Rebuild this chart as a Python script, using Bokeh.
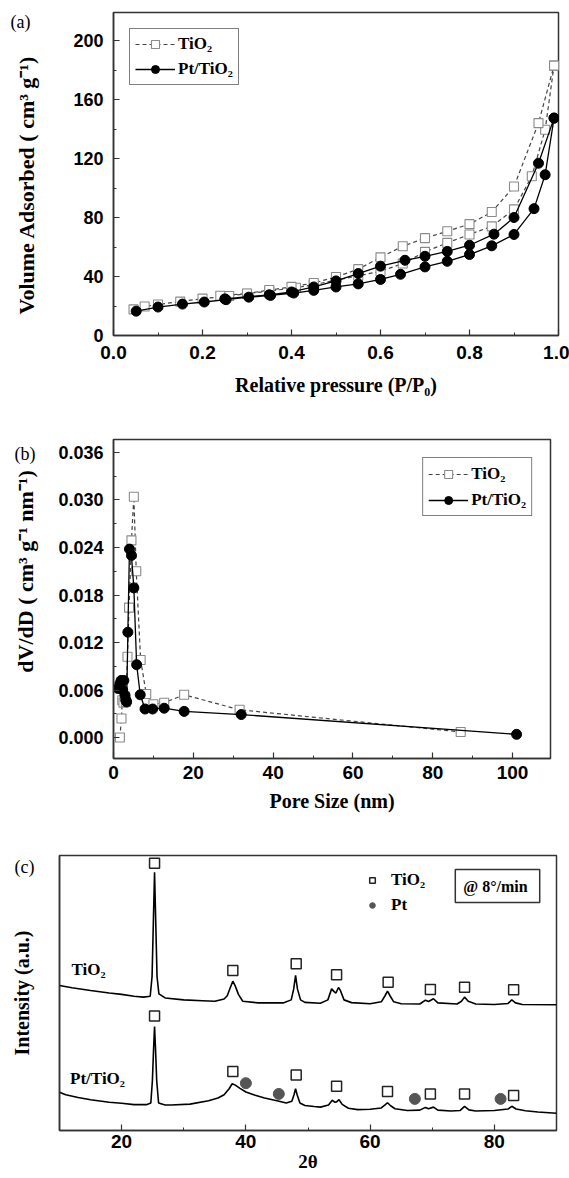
import math
from bokeh.plotting import figure
from bokeh.models import (Range1d, SingleIntervalTicker, PrintfTickFormatter, FixedTicker,
                          Legend, LegendItem, Label, LinearAxis)
from bokeh.embed import file_html
from bokeh.resources import INLINE

# ---------------- (a) N2 isotherms ----------------
tio2_ads_p = [0.045, 0.07, 0.10, 0.15, 0.20, 0.26, 0.30, 0.35, 0.41, 0.45, 0.50, 0.55,
              0.60, 0.65, 0.70, 0.75, 0.80, 0.85, 0.90, 0.94, 0.97, 0.99]
tio2_ads_v = [17.7, 19.7, 21.0, 23.0, 25.0, 26.8, 28.3, 30.2, 32.4, 34.5, 37.5, 40.5,
              43.5, 48.8, 56.7, 62.8, 68.5, 74.0, 85.5, 108.0, 139.5, 183.0]
tio2_des_p = [0.99, 0.955, 0.90, 0.85, 0.80, 0.75, 0.70, 0.65, 0.60, 0.55, 0.50, 0.45,
              0.40, 0.35, 0.30, 0.24]
tio2_des_v = [183.0, 144.0, 101.0, 83.7, 75.5, 70.7, 66.0, 60.5, 53.0, 45.0, 39.7, 35.6,
              33.0, 30.8, 28.5, 27.0]
pt_ads_p = [0.051, 0.10, 0.155, 0.204, 0.253, 0.304, 0.353, 0.405, 0.45, 0.50, 0.55,
            0.60, 0.645, 0.70, 0.75, 0.80, 0.85, 0.90, 0.945, 0.97, 0.99]
pt_ads_v = [16.5, 19.3, 21.3, 22.7, 24.3, 26.0, 27.2, 28.8, 30.6, 32.9, 35.0,
            38.0, 41.5, 46.5, 50.3, 54.9, 60.8, 68.5, 86.0, 109.0, 147.4]
pt_des_p = [0.99, 0.955, 0.90, 0.855, 0.80, 0.75, 0.70, 0.655, 0.60, 0.55, 0.50, 0.45,
            0.40, 0.35, 0.25]
pt_des_v = [147.4, 116.8, 80.0, 68.7, 61.2, 57.0, 53.7, 51.0, 47.0, 42.0, 37.0, 32.9,
            29.5, 27.6, 24.8]

# ---------------- (b) pore size distribution ----------------
tio2_pore_d = [1.6, 2.0, 2.2, 2.5, 2.8, 3.1, 3.5, 3.9, 4.5, 5.1, 5.7, 6.8, 8.2, 10.0,
               12.7, 17.7, 31.6, 87.0]
tio2_pore_v = [0.0000, 0.0024, 0.0047, 0.0044, 0.0052, 0.0045, 0.0102, 0.0164, 0.0249,
               0.0304, 0.0210, 0.0098, 0.0055, 0.0042, 0.0044, 0.0054, 0.0035, 0.0007]
pt_pore_d = [1.1, 1.6, 1.9, 2.3, 2.6, 2.9, 3.1, 3.3, 3.6, 4.0, 4.5, 5.1, 5.8, 6.7, 7.9,
             9.8, 12.7, 17.7, 32.0, 101.0]
pt_pore_v = [0.0062, 0.0068, 0.0072, 0.0060, 0.0072, 0.0053, 0.0047, 0.0045, 0.0133,
             0.0238, 0.0230, 0.0189, 0.0092, 0.0054, 0.0036, 0.0036, 0.0037, 0.0033,
             0.0029, 0.0004]

# ---------------- (c) XRD ----------------
xrd_tio2_2t = [10.0, 12.0, 15.0, 18.0, 20.0, 22.0, 23.5, 24.6, 24.9, 25.1, 25.3, 25.5,
               25.7, 26.0, 27.0, 30.0, 33.0, 35.0, 36.5, 37.0, 37.5, 37.9, 38.3, 38.8,
               39.5, 42.0, 46.0, 47.3, 47.7, 48.0, 48.3, 48.8, 49.5, 52.0, 53.2, 53.8,
               54.2, 54.5, 54.9, 55.2, 55.8, 57.0, 60.0, 61.8, 62.4, 62.8, 63.2, 63.8,
               65.0, 68.0, 68.9, 69.4, 70.2, 70.9, 74.0, 74.7, 75.2, 75.8, 77.0, 80.0,
               82.2, 82.8, 83.4, 84.5, 90.0]
xrd_tio2_int = [52.7, 51.9, 50.9, 50.0, 49.5, 48.8, 48.5, 48.8, 56.0, 75.0, 93.9, 75.0,
                56.0, 49.7, 48.2, 47.5, 47.2, 47.0, 47.8, 49.0, 52.0, 54.3, 52.5, 49.5,
                47.0, 46.4, 46.4, 47.5, 51.5, 56.4, 51.5, 47.5, 46.6, 46.3, 47.5, 51.5,
                50.5, 50.0, 52.0, 51.0, 47.5, 46.5, 46.1, 46.8, 49.0, 50.7, 49.0, 46.8,
                46.1, 46.0, 47.4, 46.9, 47.9, 46.4, 46.0, 47.0, 48.5, 47.0, 46.0, 45.8,
                46.2, 47.5, 46.4, 45.8, 45.7]
xrd_pt_2t = [10.0, 11.0, 13.0, 15.0, 18.0, 20.0, 22.0, 24.0, 24.7, 24.95, 25.15, 25.3,
             25.45, 25.65, 25.95, 27.0, 28.0, 31.0, 34.0, 35.5, 36.5, 37.3, 37.8, 38.3,
             39.0, 40.0, 41.5, 43.0, 45.0, 46.5, 47.4, 47.75, 48.0, 48.25, 48.7, 49.5,
             51.0, 52.0, 53.3, 53.9, 54.3, 54.6, 55.0, 55.5, 56.5, 58.0, 60.0, 61.8,
             62.4, 62.8, 63.3, 64.0, 66.0, 68.0, 68.9, 69.4, 70.2, 70.9, 73.0, 74.5,
             75.2, 75.9, 77.0, 80.0, 82.2, 82.8, 83.5, 85.0, 87.0, 90.0]
xrd_pt_int = [13.9, 13.0, 12.0, 11.2, 10.3, 9.9, 9.4, 9.4, 10.0, 18.0, 30.0, 37.8,
              30.0, 18.0, 10.0, 9.3, 9.3, 9.6, 10.8, 11.8, 13.0, 15.2, 17.0, 16.5,
              15.4, 14.0, 12.8, 11.8, 10.8, 10.0, 10.6, 13.0, 15.2, 13.0, 10.0, 9.1,
              8.7, 8.5, 9.3, 11.0, 10.3, 10.4, 11.2, 9.5, 8.1, 7.6, 7.7, 8.2,
              9.3, 10.1, 9.0, 7.9, 7.3, 7.4, 8.4, 7.9, 8.5, 7.4, 7.1, 7.3,
              8.8, 7.5, 7.1, 7.3, 7.8, 8.8, 7.8, 7.2, 6.7, 6.3]
tio2_peak_2t = [25.3, 37.9, 48.1, 54.6, 62.9, 69.7, 75.2, 83.1,
                25.3, 37.9, 48.1, 54.6, 62.8, 69.7, 75.2, 83.1]
tio2_peak_y = [97.2, 58.2, 60.6, 56.6, 53.9, 51.3, 52.1, 51.2,
               41.6, 21.5, 20.2, 16.1, 14.2, 13.3, 13.3, 12.7]
pt_peak_2t = [40.0, 45.3, 67.2, 81.0]
pt_peak_y = [17.2, 13.3, 11.5, 11.5]

SANS = "Liberation Sans"
SERIF = "Liberation Serif"
NB = "\u00a0"

# frames in page pixels (left, right, top, bottom) and ranges, used for annotation placement
FA, XA, YA = (113, 558, 12, 335), (0, 1), (0, 219)
FB, XB, YB = (113, 550, 439, 758), (0, 109.5), (-0.00265, 0.03764)
FC, XC, YC = (59, 556, 855, 1130), (10, 90), (0, 100)


def to_data(px, py, frame, xr, yr):
    L, R, T, B = frame
    x = xr[0] + (px - L) / (R - L) * (xr[1] - xr[0])
    y = yr[0] + (B - py) / (B - T) * (yr[1] - yr[0])
    return x, y


def add_text(p, frame, xr, yr, px, py, text, size, style="bold", angle=0.0,
             align="center", baseline="middle", font=SERIF, **kw):
    x, y = to_data(px, py, frame, xr, yr)
    p.add_layout(Label(x=x, y=y, text=text, text_font=font, text_font_style=style,
                       text_font_size=size, angle=angle, text_align=align,
                       text_baseline=baseline, text_color="black", **kw))


def side_tag(p, frame, yr, py, text, standoff):
    """Panel tag '(x)' drawn as the single tick label of an extra left axis."""
    L, R, T, B = frame
    yv = yr[0] + (B - py) / (B - T) * (yr[1] - yr[0])
    ax = LinearAxis(ticker=FixedTicker(ticks=[yv], minor_ticks=[]),
                    formatter=PrintfTickFormatter(format=text),
                    axis_line_color=None, major_tick_line_color=None,
                    minor_tick_line_color=None, major_label_standoff=standoff,
                    major_label_text_font=SERIF, major_label_text_font_style="normal",
                    major_label_text_font_size="18px", major_label_text_color="black")
    p.add_layout(ax, "left")


def style(p, xint, xfmt, yint=None, yfmt=None):
    p.xgrid.visible = False
    p.ygrid.visible = False
    p.outline_line_color = "#333333"
    p.outline_line_width = 1.5
    p.background_fill_color = "white"
    p.border_fill_color = "white"
    p.xaxis.ticker = SingleIntervalTicker(interval=xint, num_minor_ticks=2)
    p.xaxis.formatter = PrintfTickFormatter(format=xfmt)
    if yint is not None:
        p.yaxis.ticker = SingleIntervalTicker(interval=yint, num_minor_ticks=2)
        p.yaxis.formatter = PrintfTickFormatter(format=yfmt)
    for ax in p.axis:
        ax.axis_line_color = "#333333"
        ax.axis_line_width = 1.5
        ax.major_tick_in = 6
        ax.major_tick_out = 0
        ax.minor_tick_in = 3
        ax.minor_tick_out = 0
        ax.major_tick_line_color = "#333333"
        ax.minor_tick_line_color = "#333333"
        ax.major_tick_line_width = 1.2
        ax.minor_tick_line_width = 1.0
        ax.major_label_text_font = SANS
        ax.major_label_text_font_style = "bold"
        ax.major_label_text_color = "black"
        ax.axis_label_text_font = SERIF
        ax.axis_label_text_font_style = "bold"
        ax.axis_label_text_font_size = "20px"
        ax.axis_label_text_color = "black"
    p.xaxis.major_label_text_font_size = "19px"
    p.yaxis.major_label_text_font_size = "18px"
    p.yaxis.major_label_standoff = 10


def legend_style(lg):
    lg.border_line_color = "black"
    lg.border_line_width = 1.2
    lg.background_fill_color = "white"
    lg.padding = 5
    lg.spacing = 5
    lg.glyph_width = 40
    lg.glyph_height = 20
    lg.label_height = 20
    lg.label_standoff = 3
    lg.label_text_font = SERIF
    lg.label_text_font_style = "bold"
    lg.label_text_font_size = "17px"
    lg.label_text_color = "black"


DASH_COL = "#444444"
SQ_COL = "#8a8a8a"

# ---------------- figure (a) ----------------
pa = figure(width=569, height=416, title=None, x_range=Range1d(*XA), y_range=Range1d(*YA),
            output_backend="svg", toolbar_location=None,
            min_border_left=113, min_border_right=11, min_border_top=12, min_border_bottom=81)
style(pa, 0.2, "%.1f", 40, "%d")
pa.xaxis.major_label_standoff = 10
pa.xaxis.axis_label = "Relative pressure (P/P\u2080)"
pa.xaxis.axis_label_standoff = 12
pa.yaxis.axis_label = "Volume Adsorbed ( cm\u00b3 g\u207b\u00b9)" + NB * 4
pa.yaxis.axis_label_text_font_size = "22px"
pa.yaxis.axis_label_standoff = 31
side_tag(pa, FA, YA, 21, "(a)", -25)

la = pa.line(tio2_ads_p + tio2_des_p, tio2_ads_v + tio2_des_v, line_color=DASH_COL,
             line_width=1.2, line_dash="4 3")
sa = pa.scatter(tio2_ads_p + tio2_des_p, tio2_ads_v + tio2_des_v, marker="square", size=9,
                line_color=SQ_COL, fill_color="white", line_width=1.1)
lpa = pa.line(pt_ads_p + pt_des_p, pt_ads_v + pt_des_v, line_color="black", line_width=1.3)
cpa = pa.scatter(pt_ads_p + pt_des_p, pt_ads_v + pt_des_v, marker="circle", size=10,
                 line_color="black", fill_color="black")
lega = Legend(items=[LegendItem(label="TiO\u2082", renderers=[la, sa]),
                     LegendItem(label="Pt/TiO\u2082", renderers=[lpa, cpa])],
              location="top_left", margin=16)
legend_style(lega)
pa.add_layout(lega)

# ---------------- figure (b) ----------------
pb = figure(width=569, height=404, title=None, x_range=Range1d(*XB), y_range=Range1d(*YB),
            output_backend="svg", toolbar_location=None,
            min_border_left=113, min_border_right=19, min_border_top=23, min_border_bottom=62)
style(pb, 20, "%d", 0.006, "%.3f")
pb.xaxis.major_label_standoff = 7
pb.xaxis.axis_label = "Pore Size (nm)"
pb.xaxis.axis_label_standoff = 8
pb.yaxis.axis_label = NB * 10 + "dV/dD ( cm\u00b3 g\u207b\u00b9 nm\u207b\u00b9)"
pb.yaxis.axis_label_text_font_size = "22px"
pb.yaxis.axis_label_standoff = 17
side_tag(pb, FB, YB, 453, "(b)", -31)

lb = pb.line(tio2_pore_d, tio2_pore_v, line_color=DASH_COL, line_width=1.2, line_dash="4 3")
sb = pb.scatter(tio2_pore_d, tio2_pore_v, marker="square", size=9, line_color=SQ_COL,
                fill_color="white", line_width=1.1)
lpb = pb.line(pt_pore_d, pt_pore_v, line_color="black", line_width=1.3)
cpb = pb.scatter(pt_pore_d, pt_pore_v, marker="circle", size=10, line_color="black",
                 fill_color="black")
legb = Legend(items=[LegendItem(label="TiO\u2082", renderers=[lb, sb]),
                     LegendItem(label="Pt/TiO\u2082", renderers=[lpb, cpb])],
              location="top_right", margin=18)
legend_style(legb)
legb.label_height = 21
pb.add_layout(legb)

# ---------------- figure (c) ----------------
pc = figure(width=569, height=358, title=None, x_range=Range1d(*XC), y_range=Range1d(*YC),
            output_backend="svg", toolbar_location=None,
            min_border_left=59, min_border_right=13, min_border_top=35, min_border_bottom=48)
style(pc, 20, "%d")
pc.yaxis.ticker = FixedTicker(ticks=[], minor_ticks=[])
pc.yaxis.major_label_standoff = 0
pc.yaxis.axis_label = "Intensity (a.u.)"
pc.yaxis.axis_label_standoff = 27
pc.xaxis.major_label_standoff = 4
pc.xaxis.axis_label = "2\u03b8"
pc.xaxis.axis_label_standoff = 0
pc.xaxis.axis_label_text_font_size = "19px"
side_tag(pc, FC, YC, 866, "(c)", -33)

pc.line(xrd_tio2_2t, xrd_tio2_int, line_color="black", line_width=1.6)
pc.line(xrd_pt_2t, xrd_pt_int, line_color="black", line_width=1.6)
sqc = pc.scatter(tio2_peak_2t, tio2_peak_y, marker="square", size=10, line_color="#222222",
                 fill_color="white", line_width=1.5)
cic = pc.scatter(pt_peak_2t, pt_peak_y, marker="circle", size=11, line_color="#555555",
                 fill_color="#555555")
legc = Legend(items=[LegendItem(label="TiO\u2082", renderers=[sqc]),
                     LegendItem(label="Pt", renderers=[cic])],
              location=(304, 213))
legc.border_line_alpha = 0
legc.background_fill_alpha = 0
legc.padding = 2
legc.spacing = 5
legc.glyph_width = 14
legc.glyph_height = 20
legc.label_height = 20
legc.label_standoff = 12
legc.label_text_font = SERIF
legc.label_text_font_style = "bold"
legc.label_text_font_size = "17px"
legc.label_text_color = "black"
pc.add_layout(legc)

add_text(pc, FC, XC, YC, 497, 885.5, "@  8\u00b0/min", "16px",
         border_line_color="#333333", border_line_width=1.5,
         background_fill_color="white", padding=8)
add_text(pc, FC, XC, YC, 88, 969, "TiO\u2082", "17px")
add_text(pc, FC, XC, YC, 97, 1078, "Pt/TiO\u2082", "17px")

open("out.html", "w").write(file_html([pa, pb, pc], INLINE))
